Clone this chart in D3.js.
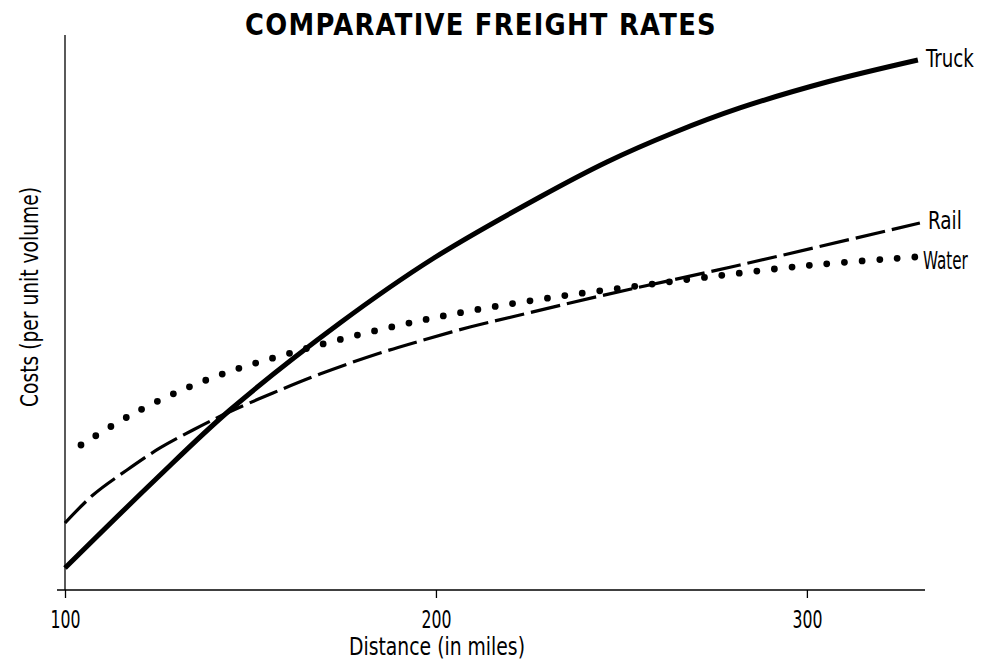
<!DOCTYPE html>
<meta charset="utf-8">
<style>

body { margin: 0; background: #fff; }

text {
  font-family: "DejaVu Sans", sans-serif;
  fill: #000;
}

.line {
  fill: none;
  stroke: #000;
}

</style>
<body>

<script src="https://cdn.jsdelivr.net/npm/d3@7"></script>
<script>

// distances (miles) and costs (arbitrary units)
var truckX = [100, 124.26, 144.47, 174.12, 199.46, 228.03, 246.09, 263.88, 281.94, 305.39, 329.92];
var truckY = [3.96, 19.82, 32.43, 48.11, 59.82, 70.81, 77.12, 82.34, 86.85, 91.53, 95.50];

var railX = [100, 107.55, 116.71, 125.61, 134.50, 143.67, 156.06, 168.73, 184.10, 195.69, 209.16, 222.64, 244.20, 281.94, 330.46];
var railY = [12.07, 17.12, 21.62, 25.59, 28.83, 31.89, 35.50, 38.92, 42.52, 44.86, 47.39, 49.55, 52.97, 58.56, 66.13];

var waterX = [104.31, 117.25, 131.54, 145.55, 159.84, 174.66, 194.07, 213.48, 233.96, 254.18, 269.00, 298.92, 329.11];
var waterY = [26.13, 31.35, 36.04, 39.64, 42.52, 45.23, 48.29, 50.81, 52.97, 54.77, 56.04, 58.38, 60.00];

var xTicks = [100, 200, 300];

var margin = {top: 35, right: 59, bottom: 76, left: 65},
    width = 982 - margin.left - margin.right,
    height = 666 - margin.top - margin.bottom;

var x = d3.scaleLinear().domain([100, 331.3]).range([0, width]);
var y = d3.scaleLinear().domain([0, 100]).range([height, 0]);

var svg = d3.select("body").append("svg")
    .attr("width", 982)
    .attr("height", 666);

var g = svg.append("g")
    .attr("transform", "translate(" + margin.left + "," + margin.top + ")");

// the original type is a tall condensed gothic: draw DejaVu and squeeze it sideways
function label(parent, txt, px, py, size, len, anchor, rot, bold) {
  var t = parent.append("text")
      .attr("text-anchor", anchor)
      .style("font-size", size + "px")
      .style("font-weight", bold ? "bold" : null)
      .style("letter-spacing", bold ? "1.5px" : null)
      .text(txt);
  var k = len / t.node().getComputedTextLength();
  t.attr("transform", "translate(" + px + "," + py + ")" + (rot ? "rotate(-90)" : "") + "scale(" + k + ",1)");
  return t;
}

label(svg, "COMPARATIVE FREIGHT RATES", 481, 35, 31, 472, "middle", false, true);

// axes
var xAxis = d3.axisBottom(x).tickValues(xTicks).tickSize(8).tickPadding(12).tickSizeOuter(0);
var gx = g.append("g")
    .attr("transform", "translate(0," + height + ")")
    .call(xAxis);
gx.select(".domain").remove();
gx.append("line")
    .attr("x1", -8).attr("x2", width + 2)
    .attr("stroke", "#000").attr("stroke-width", 1.5);
gx.selectAll(".tick line").attr("stroke-width", 1.3);
gx.selectAll(".tick text")
    .attr("font-family", null)
    .attr("font-size", null)
    .style("font-size", "25px")
    .each(function() {
      var k = 30 / this.getComputedTextLength();
      d3.select(this).attr("transform", "scale(" + k + ",1)");
    });

g.append("line")
    .attr("x1", 0).attr("x2", 0)
    .attr("y1", 0).attr("y2", height)
    .attr("stroke", "#000").attr("stroke-width", 1.3);

// axis titles
label(svg, "Distance (in miles)", 437, 655, 25, 176, "middle", false, false);
label(svg, "Costs (per unit volume)", 38, 297, 25, 220, "middle", true, false);

function toPts(xs, ys) {
  return xs.map(function(d, i) { return {d: d, c: ys[i]}; });
}

var line = d3.line()
    .x(function(p) { return x(p.d); })
    .y(function(p) { return y(p.c); })
    .curve(d3.curveCatmullRom.alpha(0.5));

var series = [
  {name: "Truck", pts: toPts(truckX, truckY), w: 5, dash: null, cap: "butt", dy: 7, len: 48},
  {name: "Rail", pts: toPts(railX, railY), w: 3.2, dash: "30 7", cap: "butt", dy: 6, len: 34},
  {name: "Water", pts: toPts(waterX, waterY), w: 6.8, dash: "0 17.6", cap: "round", dy: 12, len: 45}
];

series.forEach(function(s) {
  g.append("path")
      .datum(s.pts)
      .attr("class", "line")
      .attr("d", line)
      .attr("stroke-width", s.w)
      .attr("stroke-dasharray", s.dash)
      .attr("stroke-linecap", s.cap);

  var last = s.pts[s.pts.length - 1];
  label(g, s.name, x(last.d) + 8, y(last.c) + s.dy, 25, s.len, "start", false, false);
});

</script>
</body>
</html>
